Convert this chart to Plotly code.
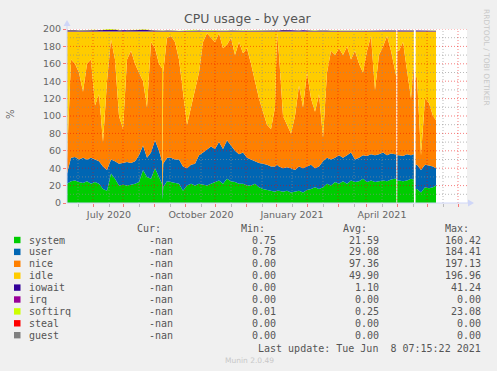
import plotly.graph_objects as go
from datetime import datetime, timedelta

# ---------------- data ----------------
START = datetime(2020, 5, 6)
END = START + timedelta(days=400)

# day offsets from START of each sample
days = [0, 4, 8, 12, 16, 20, 24, 28, 32, 36, 40, 44, 48, 52, 56, 60, 64, 68, 72, 76, 80, 84, 88, 92,
        95, 95.6, 96.2,
        100, 104, 108, 112, 116, 120, 124, 128, 132, 136, 140, 144, 148, 152, 156, 160, 164, 168, 172, 176,
        180, 184, 188, 192, 196, 200, 204, 208,
        210,
        212, 216, 220, 224, 228, 232, 236, 240, 244, 248, 252, 256, 260, 264, 268, 272, 276, 280, 284, 288,
        292, 296, 300, 304, 308, 312, 316, 320, 324, 328,
        329.2, 329.4, 330.2, 330.4,
        332, 336, 340, 344,
        346.8, 347.0, 348.5, 348.7,
        350, 354, 358, 362, 366, 369]

system = [22, 25, 26, 24, 23, 25, 22, 24, 22, 16, 14, 34, 28, 20, 21, 20, 21, 22, 24, 38, 30, 28, 40, 30,
          22, 4, 18,
          25, 24, 23, 22, 14, 20, 22, 20, 22, 21, 20, 22, 24, 26, 22, 28, 25, 24, 22, 22,
          20, 20, 22, 18, 16, 15, 14, 13,
          14,
          14, 13, 14, 12, 13, 14, 12, 15, 16, 18, 16, 18, 22, 20, 24, 22, 25, 22, 26, 24,
          25, 28, 24, 26, 24, 25, 26, 25, 27, 28,
          28, 0, 0, 26,
          26, 25, 26, 28,
          27, 0, 0, 16,
          16, 12, 18, 17, 18, 20]

user = [12, 27, 27, 26, 29, 25, 30, 26, 26, 26, 24, 16, 20, 25, 25, 27, 25, 26, 31, 28, 22, 30, 32, 30,
        26, 4, 27,
        27, 28, 27, 28, 28, 20, 22, 25, 33, 37, 42, 43, 38, 44, 40, 44, 41, 36, 34, 36,
        32, 30, 26, 28, 29, 29, 28, 29,
        30,
        28, 27, 27, 28, 25, 28, 28, 27, 28, 22, 26, 30, 30, 30, 28, 33, 27, 33, 32, 26,
        27, 27, 30, 30, 31, 31, 32, 30, 30, 28,
        28, 0, 0, 29,
        29, 29, 30, 27,
        29, 0, 0, 28,
        28, 26, 26, 26, 24, 20]

nice = [16, 113, 107, 100, 76, 110, 113, 62, 77, 28, 102, 138, 117, 55, 39, 118, 129, 112, 95, 74, 58, 127, 106, 100,
        107, 4, 105,
        138, 140, 135, 115, 88, 50, 66, 85, 95, 127, 133, 125, 123, 125, 116, 110, 124, 110, 129, 114,
        126, 110, 92, 74, 60, 46, 43, 68,
        152,
        128, 60, 49, 40, 62, 93, 70, 108, 76, 65, 83, 27, 98, 125, 118, 123, 118, 125, 107, 125,
        108, 95, 121, 136, 75, 114, 122, 137, 118, 94,
        90, 0, 0, 120,
        120, 131, 94, 65,
        104, 0, 0, 100,
        101, 17, 76, 72, 58, 55]

idle = [147, 32, 37, 47, 69, 37, 32, 85, 72, 127, 57, 9, 32, 97, 112, 32, 22, 37, 47, 57, 87, 12, 19, 37,
        42, 185, 47,
        7, 5, 12, 32, 67, 107, 87, 67, 47, 12, 2, 7, 12, 2, 19, 15, 7, 27, 12, 25,
        19, 37, 57, 77, 92, 107, 112, 87,
        1,
        27, 97, 107, 117, 97, 62, 87, 47, 77, 92, 72, 122, 47, 22, 27, 19, 27, 17, 32, 22,
        37, 47, 22, 5, 67, 27, 17, 5, 22, 47,
        51, 0, 0, 22,
        22, 12, 47, 77,
        37, 0, 0, 53,
        52, 142, 77, 82, 97, 102]

iowait = [1.5, 1.8, 1.6, 1.4, 1.5, 1.3, 1.6, 1.8, 1.4, 1.5, 2.2, 2.5, 2.0, 1.5, 1.4, 1.6, 1.5, 1.4, 1.8, 2.2,
          2.2, 1.5, 1.2, 1.0,
          1.0, 0.4, 1.0,
          1.2, 1.4, 1.0, 0.8, 0.9, 1.3, 1.5, 1.8, 1.2, 1.0, 0.9, 0.8, 1.0, 1.1, 0.9, 1.0, 1.2, 1.4, 1.3, 1.1,
          1.0, 1.2, 1.3, 1.4, 1.5, 1.6, 1.4, 1.3,
          1.2,
          1.4, 1.8, 1.5, 1.3, 1.2, 1.4, 1.6, 1.3, 1.2, 1.1, 1.3, 1.5, 1.2, 1.0, 1.1, 1.3, 1.2, 1.0, 1.1, 1.2,
          1.3, 1.1, 1.0, 1.2, 1.4, 1.1, 1.0, 1.2, 1.3, 1.4,
          1.4, 0, 0, 1.2,
          1.2, 1.1, 1.3, 1.4,
          1.3, 0, 0, 1.2,
          1.2, 1.5, 1.3, 1.2, 1.1, 1.0]

softirq = [0.3, 0.3, 0.2, 0.3, 0.4, 0.3, 0.3, 0.2, 0.3, 0.3, 0.4, 0.5, 0.3, 0.3, 0.2, 0.3, 0.3, 0.3, 0.4, 0.5,
           0.4, 0.3, 0.3, 0.2,
           0.2, 0.1, 0.2,
           0.3, 0.3, 0.2, 0.2, 0.3, 0.3, 0.3, 0.4, 0.3, 0.3, 0.6, 0.8, 0.5, 0.3, 0.3, 0.2, 0.3, 0.3, 0.2, 0.2,
           0.2, 0.3, 0.2, 0.2, 0.2, 0.2, 0.2, 0.2,
           0.2,
           0.2, 0.2, 0.2, 0.2, 0.2, 0.2, 0.2, 0.2, 0.2, 0.2, 0.2, 0.2, 0.3, 0.3, 0.3, 0.2, 0.2, 0.2, 0.2, 0.2,
           0.2, 0.2, 0.2, 0.2, 0.2, 0.2, 0.2, 0.2, 0.2, 0.2,
           0.2, 0, 0, 0.2,
           0.2, 0.2, 0.2, 0.2,
           0.2, 0, 0, 0.2,
           0.2, 0.2, 0.2, 0.2, 0.2, 0.2]

irq = [0] * len(days)
steal = [0] * len(days)
guest = [0] * len(days)

# legend table
legend_names = ["system", "user", "nice", "idle", "iowait", "irq", "softirq", "steal", "guest"]
legend_colors = ["#00CC00", "#0066B3", "#FF8000", "#FFCC00", "#330099", "#990099", "#CCFF00", "#FF0000", "#808080"]
cur_vals = ["-nan"] * 9
min_vals = ["0.75", "0.78", "0.00", "0.00", "0.00", "0.00", "0.01", "0.00", "0.00"]
avg_vals = ["21.59", "29.08", "97.36", "49.90", "1.10", "0.00", "0.25", "0.00", "0.00"]
max_vals = ["160.42", "184.41", "197.13", "196.96", "41.24", "0.00", "23.08", "0.00", "0.00"]

# x tick labels (placed mid-month like rrdtool)
label_dates = ["2020-06-17", "2020-09-17", "2020-12-17", "2021-03-17"]
label_texts = ["July 2020", "October 2020", "January 2021", "April 2021"]

y_labels = list(range(0, 201, 20))

for arr in (system, user, nice, idle, iowait, softirq):
    assert len(arr) == len(days), len(arr)

# ---------------- figure ----------------
dates = [START + timedelta(days=d) for d in days]
series = [system, user, nice, idle, iowait, irq, softirq, steal, guest]

fig = go.Figure()
for name, vals, col in zip(legend_names, series, legend_colors):
    fig.add_trace(go.Scatter(x=dates, y=vals, name=name, mode="lines", stackgroup="cpu",
                             line=dict(width=0, color=col), fillcolor=col,
                             hoverinfo="skip", showlegend=False))

L, R, T, B = 67, 467, 29, 203   # plot area in pixels


def px(x):
    return (x - L) / (R - L)


def py(y):
    return (B - y) / (B - T)


month_starts = []
mid_months = []
for i in range(14):
    yr = 2020 + (4 + i) // 12
    mo = (4 + i) % 12 + 1
    ms = datetime(yr, mo, 1)
    mm = datetime(yr, mo, 17)
    if START <= ms <= END:
        month_starts.append(ms)
    if START <= mm <= END:
        mid_months.append(mm)

tickvals = []
ticktext = []
for mm in mid_months:
    s = mm.strftime("%Y-%m-%d")
    tickvals.append(mm)
    ticktext.append(label_texts[label_dates.index(s)] if s in label_dates else "")

shapes = []
GREY = "rgba(140,140,140,0.6)"
RED = "rgba(240,0,0,0.5)"
DASH = "1px,2px"
for mm in mid_months:
    shapes.append(dict(type="line", xref="x", yref="paper", x0=mm, x1=mm, y0=0, y1=1,
                       line=dict(color=GREY, width=1, dash=DASH), layer="above"))
for v in range(10, 200, 20):
    shapes.append(dict(type="line", xref="paper", yref="y", x0=0, x1=1, y0=v, y1=v,
                       line=dict(color=GREY, width=1, dash=DASH), layer="above"))
for ms in month_starts:
    shapes.append(dict(type="line", xref="x", yref="paper", x0=ms, x1=ms, y0=0, y1=1,
                       line=dict(color=RED, width=1, dash=DASH), layer="above"))
for v in range(20, 201, 20):
    shapes.append(dict(type="line", xref="paper", yref="y", x0=0, x1=1, y0=v, y1=v,
                       line=dict(color=RED, width=1, dash=DASH), layer="above"))

AXIS = "#CFD6F8"
# axis lines + arrows
shapes.append(dict(type="line", xref="paper", yref="paper", x0=0, x1=px(472), y0=0, y1=0,
                   line=dict(color=AXIS, width=1), layer="above"))
shapes.append(dict(type="line", xref="paper", yref="paper", x0=0, x1=0, y0=0, y1=py(22),
                   line=dict(color=AXIS, width=1), layer="above"))
shapes.append(dict(type="path", xref="paper", yref="paper",
                   path=f"M {px(468)} {py(199.5)} L {px(474)} {py(203)} L {px(468)} {py(206.5)} Z",
                   fillcolor=AXIS, line=dict(color=AXIS, width=0), layer="above"))
shapes.append(dict(type="path", xref="paper", yref="paper",
                   path=f"M {px(63.5)} {py(26)} L {px(67)} {py(20)} L {px(70.5)} {py(26)} Z",
                   fillcolor=AXIS, line=dict(color=AXIS, width=0), layer="above"))

annotations = []
TXT = "#555555"
MONO = "DejaVu Sans Mono"
annotations.append(dict(text="CPU usage - by year", x=px(248), y=py(19), xref="paper", yref="paper",
                        xanchor="center", yanchor="middle", showarrow=False,
                        font=dict(family="DejaVu Sans", size=12.5, color=TXT)))
annotations.append(dict(text="%", x=px(10), y=py(114), xref="paper", yref="paper", textangle=-90,
                        xanchor="center", yanchor="middle", showarrow=False,
                        font=dict(family="DejaVu Sans", size=10, color="#666666")))
annotations.append(dict(text="RRDTOOL / TOBI OETIKER", x=px(487), y=py(57), xref="paper", yref="paper",
                        textangle=90, xanchor="center", yanchor="middle", showarrow=False,
                        font=dict(family="DejaVu Sans", size=7.5, color="#C8C8C8")))

# legend header
for txt, xr in zip(["Cur:", "Min:", "Avg:", "Max:"], [163, 267, 369, 471]):
    annotations.append(dict(text=txt, x=px(xr), y=py(228), xref="paper", yref="paper",
                            xanchor="right", yanchor="middle", showarrow=False,
                            font=dict(family=MONO, size=10, color=TXT)))

for i, name in enumerate(legend_names):
    yy = 240 + 11.9 * i
    shapes.append(dict(type="rect", xref="paper", yref="paper",
                       x0=px(14), x1=px(20.5), y0=py(yy - 3.2), y1=py(yy + 3.2),
                       fillcolor=legend_colors[i], line=dict(width=0)))
    annotations.append(dict(text=name, x=px(27), y=py(yy), xref="paper", yref="paper",
                            xanchor="left", yanchor="middle", showarrow=False,
                            font=dict(family=MONO, size=10, color=TXT)))
    for vals, xr in ((cur_vals, 175), (min_vals, 278), (avg_vals, 381), (max_vals, 483)):
        annotations.append(dict(text=vals[i], x=px(xr), y=py(yy), xref="paper", yref="paper",
                                xanchor="right", yanchor="middle", showarrow=False,
                                font=dict(family=MONO, size=10, color=TXT)))

annotations.append(dict(text="Last update: Tue Jun\u00a0\u00a08 07:15:22 2021", x=px(483), y=py(348),
                        xref="paper", yref="paper", xanchor="right", yanchor="middle", showarrow=False,
                        font=dict(family=MONO, size=10, color=TXT)))
annotations.append(dict(text="Munin 2.0.49", x=px(249), y=py(360), xref="paper", yref="paper",
                        xanchor="center", yanchor="middle", showarrow=False,
                        font=dict(family="DejaVu Sans", size=7.5, color="#C8C8C8")))

fig.update_layout(
    width=497, height=371,
    margin=dict(l=L, r=497 - R, t=T, b=371 - B),
    paper_bgcolor="#F0F0F0", plot_bgcolor="#FFFFFF",
    showlegend=False,
    font=dict(family="DejaVu Sans", size=9.5, color="#666666"),
    xaxis=dict(type="date", range=[START, END], tickmode="array", tickvals=tickvals, ticktext=ticktext,
               showgrid=False, zeroline=False, showline=False, ticks="outside", ticklen=3,
               tickcolor="rgba(150,150,150,0.6)", tickfont=dict(size=9.5, color="#666666"),
               minor=dict(tickmode="array", tickvals=month_starts, ticks="outside", ticklen=3,
                          tickcolor="rgba(255,0,0,0.5)", showgrid=False),
               fixedrange=True),
    yaxis=dict(range=[0, 200], tickmode="array", tickvals=y_labels, showgrid=False, zeroline=False,
               showline=False, ticks="outside", ticklen=3, tickcolor="rgba(255,0,0,0.5)",
               tickfont=dict(size=9.5, color="#666666"), fixedrange=True),
    shapes=shapes,
    annotations=annotations,
)

fig.write_html("out.html", config={"displayModeBar": False},
               post_script="document.body.style.margin='0px';document.body.style.overflow='hidden';")
